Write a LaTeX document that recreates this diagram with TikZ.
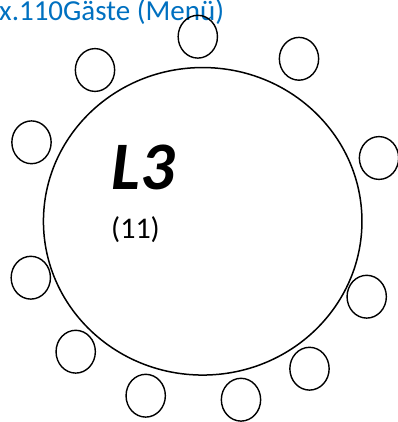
\documentclass[tikz,border=0pt]{standalone}
\usepackage{fontspec}
\setmainfont{Carlito}
\usepackage{xcolor}
\usetikzlibrary{shapes.geometric}

\definecolor{titleblue}{RGB}{0,112,192}

\tikzset{
  tablebox/.style={draw, line width=1.5pt, ellipse, inner sep=0pt, minimum width=318.5pt, minimum height=307.5pt},
  seatbox/.style={draw, line width=1.4pt, ellipse, inner sep=0pt, minimum width=39.3pt, minimum height=42.8pt}
}

\begin{document}
\begin{tikzpicture}[x=1pt, y=-1pt]
	\useasboundingbox (0,0) rectangle (397,422);

	% Title
	\node[anchor=base west, inner sep=0pt, text=titleblue, font=\fontsize{29}{32}\selectfont] (title) at (-1,20.5) {x.110Gäste (Menü)};

	% Table
	\node[tablebox] (table) at (202.7,221.3) {};
	\node[anchor=base, inner sep=0pt, font=\fontsize{68}{70}\selectfont\bfseries\itshape] (name) at (143,189) {L3};
	\node[anchor=base, inner sep=0pt, font=\fontsize{30}{33}\selectfont] (count) at (135.5,238.5) {(11)};

	% Seats
	\node[seatbox] (s1) at (197.8,36.7) {};
	\node[seatbox] (s2) at (299,58.8) {};
	\node[seatbox] (s3) at (379,158) {};
	\node[seatbox] (s4) at (366.7,296.7) {};
	\node[seatbox] (s5) at (309.5,368.7) {};
	\node[seatbox] (s6) at (241,399.7) {};
	\node[seatbox] (s7) at (145.7,395.7) {};
	\node[seatbox] (s8) at (75.7,351.7) {};
	\node[seatbox] (s9) at (30.8,277.7) {};
	\node[seatbox] (s10) at (31.5,142.3) {};
	\node[seatbox] (s11) at (95,70) {};
\end{tikzpicture}
\end{document}
